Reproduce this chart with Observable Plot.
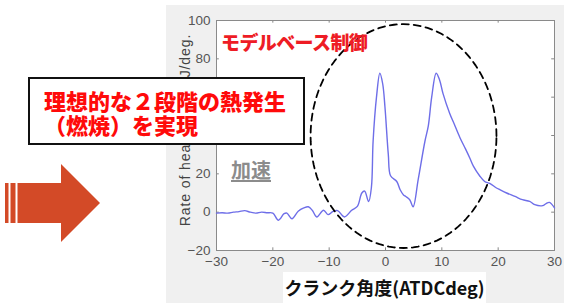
<!DOCTYPE html>
<html><head><meta charset="utf-8">
<script src="https://cdn.jsdelivr.net/npm/d3@7"></script>
<script src="https://cdn.jsdelivr.net/npm/@observablehq/plot@0.6"></script>
<style>
html,body{margin:0;padding:0;background:#fff;}
#wrap{position:relative;width:564px;height:305px;overflow:hidden;font-family:"Noto Sans CJK JP","Noto Sans",sans-serif;}
#panel{position:absolute;left:166px;top:5px;width:398px;height:298px;background:#f0f0f0;}
#chart{position:absolute;left:0;top:0;}
.abs{position:absolute;white-space:nowrap;}
</style></head>
<body><div id="wrap"><div id="panel"></div><div id="chart"></div></div>
<script>
// crank angle (ATDC deg)
const angle = [-30,-29,-28,-27,-26,-25,-24,-23,-22,-21,-20,-19,-18,-17.5,-16.6,-15.5,-14.5,-13.7,-13,-12.2,-11,-10.2,-9.3,-8.5,-7.3,-6,-5,-4.2,-3.7,-3,-2.5,-2.2,-1.6,-1,-0.5,-0.1,0.5,0.9,2,2.6,3.2,3.6,4.3,4.9,5.8,7,7.6,8.2,9,9.6,10.2,11.4,12.2,13.2,14.2,15,15.6,16.7,17.6,18.5,19.7,20.3,21.5,23,24.3,25.6,26.5,27.9,28.5,29.1,30];
// rate of heat release (J/deg.)
const heat = [-0.5,-0.3,-0.5,0,0.3,0.8,0,-0.5,0,-0.3,-0.5,-4.2,-0.8,-0.5,-3.4,0.5,2.2,2.8,1,-2.5,1,-1.3,0.4,0.8,-2.5,1,3,10,11,5.5,13,37,60,72.5,67,55,30,19,16,11.7,9,8.2,6.5,2.8,17,37,45,60,72.5,69,62,51.5,46,39,33,28,24,19,16,15,12.6,11.7,10,8.2,6.5,5.6,3.9,3.4,4.5,5.1,2.2];
const xTicks = [-30,-20,-10,0,10,20,30];
const yTicks = [-20,0,20,40,60,80,100];
const xLabel = "クランク角度(ATDCdeg)";
const yLabel = "Rate of heat release J/deg.";
const boxLines = ["理想的な２段階の熱発生", "（燃焼）を実現"];
const redNote = "モデルベース制御";
const grayNote = "加速";
// dashed ellipse annotation: center and radii in data units
const ellipse = {cx: 3.2, cy: 39.7, rx: 16.5, ry: 58.4};

const data = angle.map((a,i)=>({a, h: heat[i]}));
const ell = d3.range(0, 361, 3).map(t => ({
  x: ellipse.cx + ellipse.rx*Math.cos(t*Math.PI/180),
  y: ellipse.cy + ellipse.ry*Math.sin(t*Math.PI/180)
}));
const fmt = d => d < 0 ? "\u2212" + Math.abs(d) : String(d);

const plot = Plot.plot({
  width: 564, height: 305,
  marginLeft: 216, marginRight: 10, marginTop: 20, marginBottom: 55,
  style: {background: "transparent", fontFamily: "Liberation Sans, Arial, sans-serif", fontSize: "13px", color: "#555"},
  x: {domain: [-30, 30]},
  y: {domain: [-20, 100]},
  marks: [
    Plot.frame({fill: "white", stroke: "none"}),
    Plot.ruleX(xTicks, {y1: -20, y2: -18.6, stroke: "#888"}),
    Plot.ruleX(xTicks, {y1: 100, y2: 98.6, stroke: "#888"}),
    Plot.ruleY(yTicks, {x1: -30, x2: -29.5, stroke: "#888"}),
    Plot.ruleY(yTicks, {x1: 30, x2: 29.5, stroke: "#888"}),
    Plot.frame({stroke: "#8a8a8a", strokeWidth: 1}),
    Plot.axisX(xTicks, {tickSize: 0, tickPadding: 6, tickFormat: fmt, label: null, fontSize: 13.5, fill: "#555"}),
    Plot.axisY(yTicks, {tickSize: 0, tickPadding: 6, tickFormat: fmt, label: null, fontSize: 13.5, fill: "#555"}),
    Plot.line(data, {x: "a", y: "h", stroke: "#6e6ee8", strokeWidth: 1.4, curve: "catmull-rom"}),
    Plot.line(ell, {x: "x", y: "y", stroke: "black", strokeWidth: 1.8, strokeDasharray: "7,5", clip: false})
  ]
});
document.getElementById("chart").appendChild(plot);

const wrap = document.getElementById("wrap");
function add(html, css){ const d=document.createElement("div"); d.className="abs"; d.style.cssText=css; d.innerHTML=html; wrap.appendChild(d); return d; }

// y label (rotated)
add(yLabel, "left:185px;top:130px;transform:translate(-50%,-50%) rotate(-90deg);font-family:'Liberation Sans',Arial,sans-serif;font-size:14px;letter-spacing:0.9px;color:#444;");
// x label with white background
add(xLabel, "left:283px;top:272px;width:203px;height:31px;background:#fff;text-align:center;line-height:30px;font-size:18px;font-weight:bold;color:#111;");
// red note
add(redNote, "left:221px;top:29px;font-size:19px;font-weight:900;color:#ee1c25;line-height:26px;letter-spacing:-0.6px;");
// gray note
add(grayNote, "left:231px;top:156px;font-size:20px;font-weight:bold;color:#8c8c8c;line-height:28px;text-decoration:underline;text-underline-offset:2px;");
// text box
const tb = add("", "left:28px;top:77px;width:273px;height:64px;border:2px solid #111;background:#fff;");
const inner = document.createElement("div");
inner.style.cssText = "position:absolute;left:14px;top:9px;font-size:22px;font-weight:900;color:#ff0a0a;line-height:24px;";
inner.innerHTML = boxLines.join("<br>");
tb.appendChild(inner);

// arrow
const ns = "http://www.w3.org/2000/svg";
const svg = document.createElementNS(ns, "svg");
svg.setAttribute("width", 110); svg.setAttribute("height", 90);
svg.style.cssText = "position:absolute;left:0;top:160px;";
svg.innerHTML = '<g fill="#d34a27"><rect x="5" y="23" width="3.5" height="40"/><rect x="10.5" y="23" width="5" height="40"/><polygon points="17.5,23 61,23 61,4 100,43 61,82 61,63 17.5,63"/></g>';
wrap.appendChild(svg);
</script></body></html>
